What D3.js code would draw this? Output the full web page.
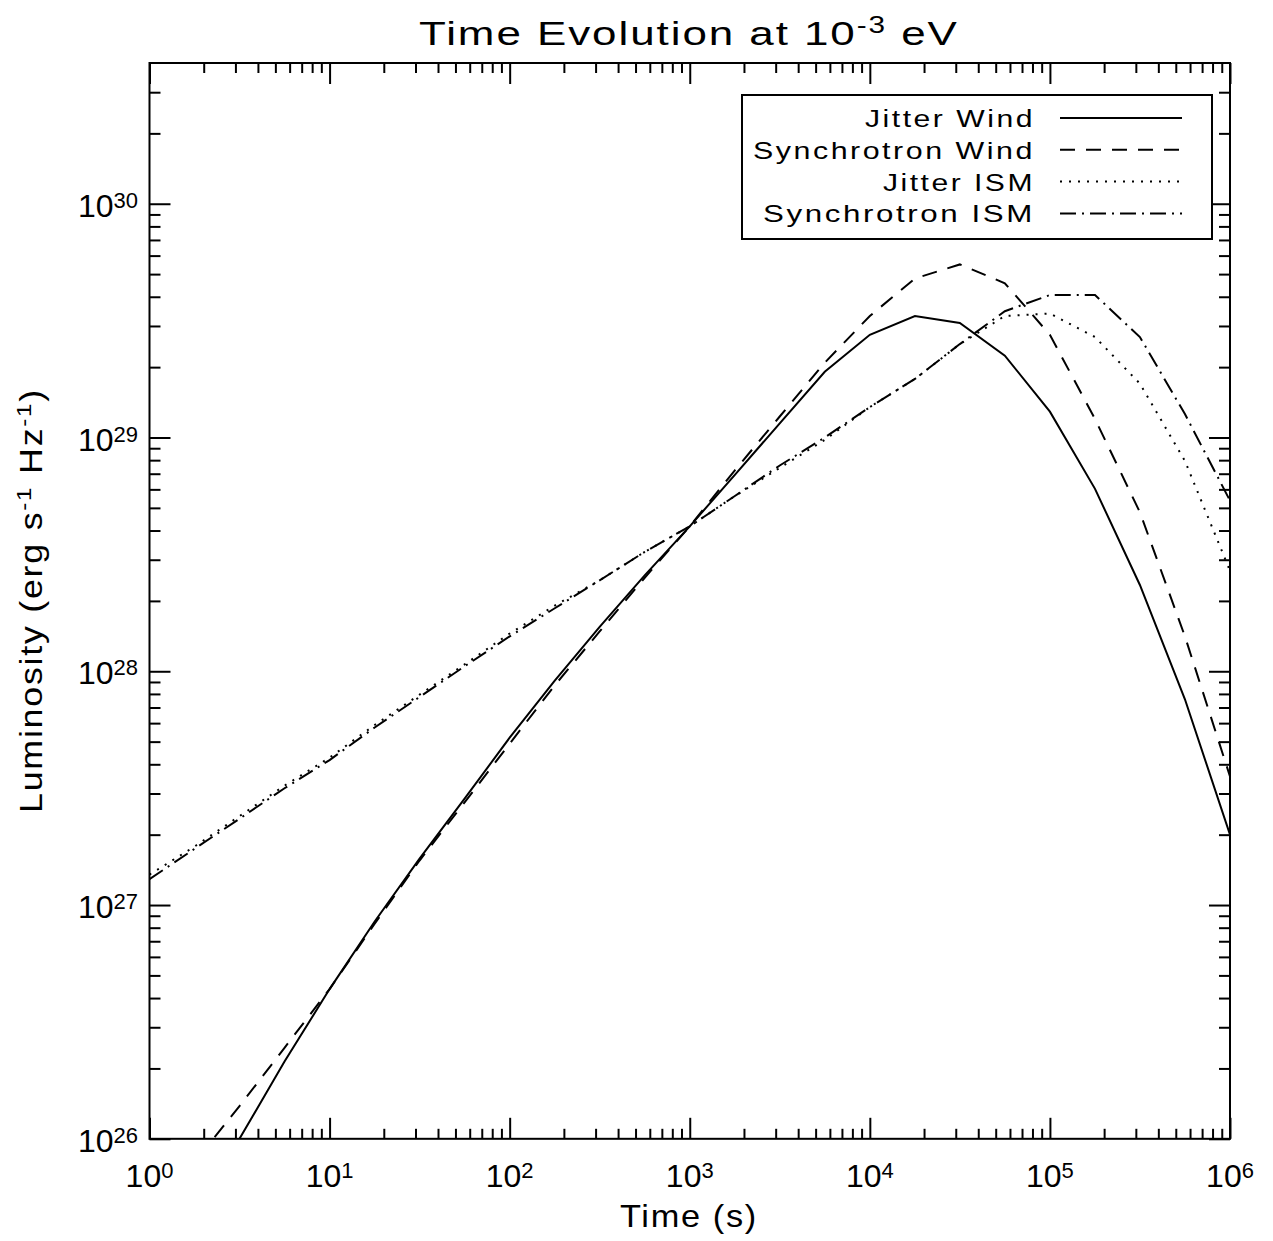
<!DOCTYPE html>
<html><head><meta charset="utf-8">
<script src="https://cdn.jsdelivr.net/npm/d3@7/dist/d3.min.js"></script>
<style>
body{margin:0;background:#fff}
svg{display:block}
text{font-family:"Liberation Sans",Arial,sans-serif;fill:#000}
</style>
</head><body>
<svg id="chart" width="1273" height="1241"></svg>
<script>
// ---------------- data ----------------
const timeS = [1, 1.78, 3.16, 5.62, 10, 17.8, 31.6, 56.2, 100, 178, 316, 562,
               1000, 1780, 3160, 5620, 1e4, 1.78e4, 3.16e4, 5.62e4, 1e5, 1.78e5, 3.16e5, 5.62e5, 1e6];
const jitterWind = [2.4e25, 4.9e25, 1.0e26, 2.14e26, 4.37e26, 8.5e26, 1.58e27, 2.85e27, 5.2e27, 9.12e27,
                    1.55e28, 2.57e28, 4.17e28, 6.92e28, 1.15e29, 1.91e29, 2.75e29, 3.31e29, 3.09e29, 2.24e29,
                    1.29e29, 6.03e28, 2.34e28, 7.59e27, 2.0e27];
const synchWind = [4.57e25, 7.94e25, 1.38e26, 2.45e26, 4.37e26, 8.32e26, 1.55e27, 2.75e27, 4.90e27, 8.71e27,
                   1.48e28, 2.51e28, 4.17e28, 7.24e28, 1.23e29, 2.09e29, 3.31e29, 4.79e29, 5.50e29, 4.57e29,
                   2.75e29, 1.20e29, 4.79e28, 1.41e28, 3.55e27];
const jitterISM = [1.35e27, 1.78e27, 2.40e27, 3.24e27, 4.27e27, 5.89e27, 7.94e27, 1.07e28, 1.45e28, 1.91e28,
                   2.45e28, 3.24e28, 4.17e28, 5.62e28, 7.41e28, 9.77e28, 1.35e29, 1.78e29, 2.51e29, 3.31e29,
                   3.39e29, 2.69e29, 1.70e29, 7.94e28, 2.69e28];
const synchISM = [1.29e27, 1.74e27, 2.34e27, 3.16e27, 4.17e27, 5.75e27, 7.76e27, 1.05e28, 1.41e28, 1.86e28,
                  2.45e28, 3.24e28, 4.17e28, 5.62e28, 7.59e28, 1.0e29, 1.35e29, 1.78e29, 2.51e29, 3.47e29,
                  4.07e29, 4.07e29, 2.69e29, 1.26e29, 5.37e28];
const seriesNames = ["Jitter Wind", "Synchrotron Wind", "Jitter ISM", "Synchrotron ISM"];
const xTickExp = [0, 1, 2, 3, 4, 5, 6];
const yTickExp = [26, 27, 28, 29, 30];
const titleText = ["Time Evolution at 10", "-3", " eV"];
const xLabel = "Time (s)";
const yLabel = ["Luminosity (erg s", "-1", " Hz", "-1", ")"];

// ---------------- layout ----------------
const L = 149.5, R = 1230, T = 63, B = 1138.8;
const svg = d3.select("#chart");
const x = d3.scaleLog().domain([1, 1e6]).range([L, R]);
const y = d3.scaleLog().domain([1e26, 4e30]).range([B, T]);

const dashes = ["none", "15,11", "2,7", "16,6,2,6"];
const allSeries = [jitterWind, synchWind, jitterISM, synchISM];

svg.append("defs").append("clipPath").attr("id", "clip")
  .append("rect").attr("x", L).attr("y", T).attr("width", R - L).attr("height", B - T);

const line = d3.line().x(d => x(d[0])).y(d => y(d[1]));
const gLines = svg.append("g").attr("clip-path", "url(#clip)");
allSeries.forEach((s, i) => {
  gLines.append("path")
    .datum(timeS.map((t, k) => [t, s[k]]))
    .attr("d", line)
    .attr("fill", "none").attr("stroke", "#000").attr("stroke-width", 2)
    .attr("stroke-dasharray", dashes[i]);
});

// ticks
const xMajor = xTickExp.map(e => Math.pow(10, e));
const xMinor = [];
for (let e = 0; e < 6; e++) for (let k = 2; k <= 9; k++) xMinor.push(k * Math.pow(10, e));
const yMajor = yTickExp.map(e => Math.pow(10, e));
const yMinor = [];
for (let e = 26; e <= 30; e++) for (let k = 2; k <= 9; k++) { const v = k * Math.pow(10, e); if (v < 4e30) yMinor.push(v); }

function styleAxis(g) {
  g.select(".domain").remove();
  g.selectAll("line").attr("stroke", "#000").attr("stroke-width", 2);
}
svg.append("g").attr("transform", `translate(0,${B})`).call(d3.axisBottom(x).tickValues(xMajor).tickSize(-21).tickFormat("")).call(styleAxis);
svg.append("g").attr("transform", `translate(0,${B})`).call(d3.axisBottom(x).tickValues(xMinor).tickSize(-10).tickFormat("")).call(styleAxis);
svg.append("g").attr("transform", `translate(0,${T})`).call(d3.axisTop(x).tickValues(xMajor).tickSize(-21).tickFormat("")).call(styleAxis);
svg.append("g").attr("transform", `translate(0,${T})`).call(d3.axisTop(x).tickValues(xMinor).tickSize(-10).tickFormat("")).call(styleAxis);
svg.append("g").attr("transform", `translate(${L},0)`).call(d3.axisLeft(y).tickValues(yMajor).tickSize(-21).tickFormat("")).call(styleAxis);
svg.append("g").attr("transform", `translate(${L},0)`).call(d3.axisLeft(y).tickValues(yMinor).tickSize(-11).tickFormat("")).call(styleAxis);
svg.append("g").attr("transform", `translate(${R},0)`).call(d3.axisRight(y).tickValues(yMajor).tickSize(-21).tickFormat("")).call(styleAxis);
svg.append("g").attr("transform", `translate(${R},0)`).call(d3.axisRight(y).tickValues(yMinor).tickSize(-11).tickFormat("")).call(styleAxis);

// frame
svg.append("rect").attr("x", L).attr("y", T).attr("width", R - L).attr("height", B - T)
  .attr("fill", "none").attr("stroke", "#000").attr("stroke-width", 2);

// tick labels
xTickExp.forEach(e => {
  const t = svg.append("text").attr("x", x(Math.pow(10, e))).attr("y", 1187)
    .attr("text-anchor", "middle").attr("font-size", 32);
  t.append("tspan").text("10");
  t.append("tspan").attr("dy", -9).attr("font-size", 22).text(String(e));
});
yTickExp.forEach(e => {
  const t = svg.append("text").attr("x", 138).attr("y", y(Math.pow(10, e)) + 13)
    .attr("text-anchor", "end").attr("font-size", 32);
  t.append("tspan").text("10");
  t.append("tspan").attr("dy", -9).attr("font-size", 22).text(String(e));
});

// widen glyphs (Hershey-like) so the text spans the target width
function fit(sel, x0, y0, target, ls, rot) {
  sel.attr("letter-spacing", ls);
  const w = sel.node().getComputedTextLength();
  const sx = target / w;
  sel.attr("transform", `translate(${x0},${y0})${rot ? " rotate(-90)" : ""} scale(${sx.toFixed(3)},1)`);
}

// title
const tt = svg.append("text").attr("font-size", 34);
tt.append("tspan").text(titleText[0]);
tt.append("tspan").attr("dy", -12).attr("font-size", 23).text(titleText[1]);
tt.append("tspan").attr("dy", 12).text(titleText[2]);
fit(tt, 419, 45, 540, 1.5);

// x label
const xl = svg.append("text").attr("font-size", 31).text(xLabel);
fit(xl, 620, 1227, 138, 1.5);

// y label
const yl = svg.append("text").attr("font-size", 31);
yl.append("tspan").text(yLabel[0]);
yl.append("tspan").attr("dy", -11).attr("font-size", 21).text(yLabel[1]);
yl.append("tspan").attr("dy", 11).text(yLabel[2]);
yl.append("tspan").attr("dy", -11).attr("font-size", 21).text(yLabel[3]);
yl.append("tspan").attr("dy", 11).text(yLabel[4]);
fit(yl, 42, 813, 425, 1.5, true);

// legend
svg.append("rect").attr("x", 742).attr("y", 95).attr("width", 470).attr("height", 144)
  .attr("fill", "#fff").attr("stroke", "#000").attr("stroke-width", 2);
const legStart = [865, 753, 883, 763];
seriesNames.forEach((nm, i) => {
  const base = 127 + i * 31.8;
  const t = svg.append("text").attr("font-size", 24).text(nm);
  fit(t, legStart[i], base, 1035 - legStart[i], 2);
  svg.append("line").attr("x1", 1060).attr("x2", 1182).attr("y1", base - 9).attr("y2", base - 9)
    .attr("stroke", "#000").attr("stroke-width", 2).attr("stroke-dasharray", dashes[i]);
});
</script>
</body></html>
